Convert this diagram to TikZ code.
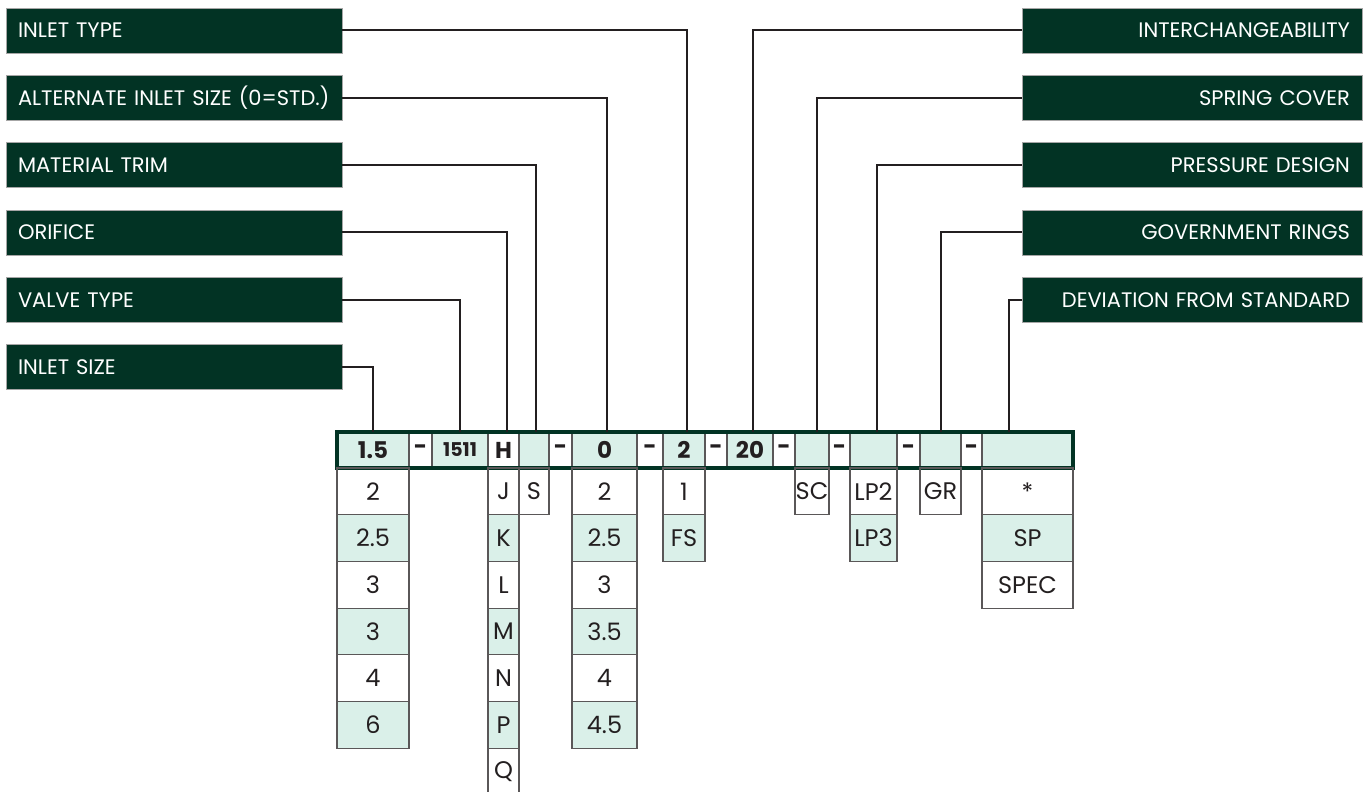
\documentclass[tikz,border=0pt]{standalone}
\usepackage{fontspec}
\setmainfont{Poppins}
\usetikzlibrary{positioning}
\definecolor{dkgreen}{RGB}{2,51,36}
\definecolor{ltgreen}{RGB}{218,240,233}
\definecolor{ink}{RGB}{35,31,32}

\begin{document}
\begin{tikzpicture}[
  x=1pt, y=-1pt,
  node distance=0pt,
  lbl/.style={draw=gray!70, fill=dkgreen, text=white, minimum height=45pt, inner xsep=12pt, inner ysep=0pt, font=\fontsize{21}{21}\selectfont},
  lft/.style={lbl, align=left, text width=312pt},
  rgt/.style={lbl, align=right, text width=316pt},
  cell/.style={draw=ink!75, line width=1.2pt, minimum width=#1, minimum height=46.7pt, inner sep=0pt, outer sep=0pt, text=ink, font=\fontsize{24}{24}\selectfont},
  code/.style={cell=#1, minimum height=36pt, font=\fontsize{23}{23}\selectfont\bfseries},
  tint/.style={fill=ltgreen},
  conn/.style={draw=ink, line width=2pt}
]
\useasboundingbox (0,0) rectangle (1365,792);

% labels, left side
\node[lft] (inlettype) at (174,30.5) {INLET TYPE};
\node[lft] (altsize) at (174,97.8) {ALTERNATE INLET SIZE (0=STD.)};
\node[lft] (trim) at (174,165.1) {MATERIAL TRIM};
\node[lft] (orifice) at (174,232.4) {ORIFICE};
\node[lft] (valvetype) at (174,299.7) {VALVE TYPE};
\node[lft] (inletsize) at (174,367) {INLET SIZE};

% labels, right side
\node[rgt] (interch) at (1192,30.5) {INTERCHANGEABILITY};
\node[rgt] (springcov) at (1192,97.8) {SPRING COVER};
\node[rgt] (pressdes) at (1192,165.1) {PRESSURE DESIGN};
\node[rgt] (govrings) at (1192,232.4) {GOVERNMENT RINGS};
\node[rgt] (deviation) at (1192,299.7) {DEVIATION FROM STANDARD};

% code row
\node[code=72pt, tint, anchor=west] (size) at (337,450) {1.5};
\node[code=23pt, right=of size] (d1) {-};
\node[code=56pt, tint, right=of d1, font=\fontsize{19}{19}\selectfont\bfseries] (valve) {1511};
\node[code=31pt, right=of valve] (orif) {H};
\node[code=30pt, tint, right=of orif] (trimc) {};
\node[code=23pt, right=of trimc] (d2) {-};
\node[code=65pt, tint, right=of d2] (alt) {0};
\node[code=26pt, right=of alt] (d3) {-};
\node[code=42pt, tint, right=of d3] (type) {2};
\node[code=22pt, right=of type] (d4) {-};
\node[code=46pt, tint, right=of d4] (interc) {20};
\node[code=22pt, right=of interc] (d5) {-};
\node[code=34pt, tint, right=of d5] (spring) {};
\node[code=21pt, right=of spring] (d6) {-};
\node[code=47pt, tint, right=of d6] (press) {};
\node[code=23pt, right=of press] (d7) {-};
\node[code=41pt, tint, right=of d7] (gov) {};
\node[code=21pt, right=of gov] (d8) {-};
\node[code=91pt, tint, right=of d8] (dev) {};
\draw[dkgreen, line width=3.5pt] (size.north west) rectangle (dev.south east);

% inlet size column
\node[cell=72pt, below=of size] (size2) {2};
\node[cell=72pt, tint, below=of size2] (size25) {2.5};
\node[cell=72pt, below=of size25] (size3) {3};
\node[cell=72pt, tint, below=of size3] (size3b) {3};
\node[cell=72pt, below=of size3b] (size4) {4};
\node[cell=72pt, tint, below=of size4] (size6) {6};

% orifice column
\node[cell=31pt, below=of orif] (orifJ) {J};
\node[cell=31pt, tint, below=of orifJ] (orifK) {K};
\node[cell=31pt, below=of orifK] (orifL) {L};
\node[cell=31pt, tint, below=of orifL] (orifM) {M};
\node[cell=31pt, below=of orifM] (orifN) {N};
\node[cell=31pt, tint, below=of orifN] (orifP) {P};
\node[cell=31pt, below=of orifP] (orifQ) {Q};

\node[cell=30pt, below=of trimc] (trimS) {S};

% alternate inlet size column
\node[cell=65pt, below=of alt] (alt2) {2};
\node[cell=65pt, tint, below=of alt2] (alt25) {2.5};
\node[cell=65pt, below=of alt25] (alt3) {3};
\node[cell=65pt, tint, below=of alt3] (alt35) {3.5};
\node[cell=65pt, below=of alt35] (alt4) {4};
\node[cell=65pt, tint, below=of alt4] (alt45) {4.5};

\node[cell=42pt, below=of type] (type1) {1};
\node[cell=42pt, tint, below=of type1] (typeFS) {FS};

\node[cell=34pt, below=of spring] (springSC) {SC};
\node[cell=47pt, below=of press] (pressLP2) {LP2};
\node[cell=47pt, tint, below=of pressLP2] (pressLP3) {LP3};
\node[cell=41pt, below=of gov] (govGR) {GR};

\node[cell=91pt, below=of dev] (devstar) {*};
\node[cell=91pt, tint, below=of devstar] (devSP) {SP};
\node[cell=91pt, below=of devSP] (devSPEC) {SPEC};

% connectors
\draw[conn] (inlettype.east) -| ([xshift=3pt]type.north);
\draw[conn] (altsize.east) -| ([xshift=2pt]alt.north);
\draw[conn] (trim.east) -| ([xshift=2pt]trimc.north);
\draw[conn] (orifice.east) -| ([xshift=3.5pt]orif.north);
\draw[conn] (valvetype.east) -| (valve.north);
\draw[conn] (inletsize.east) -| (size.north);
\draw[conn] (interch.west) -| ([xshift=3pt]interc.north);
\draw[conn] (springcov.west) -| ([xshift=5pt]spring.north);
\draw[conn] (pressdes.west) -| ([xshift=3.5pt]press.north);
\draw[conn] (govrings.west) -| (gov.north);
\draw[conn] (deviation.west) -| ([xshift=-18.5pt]dev.north);
\end{tikzpicture}
\end{document}
